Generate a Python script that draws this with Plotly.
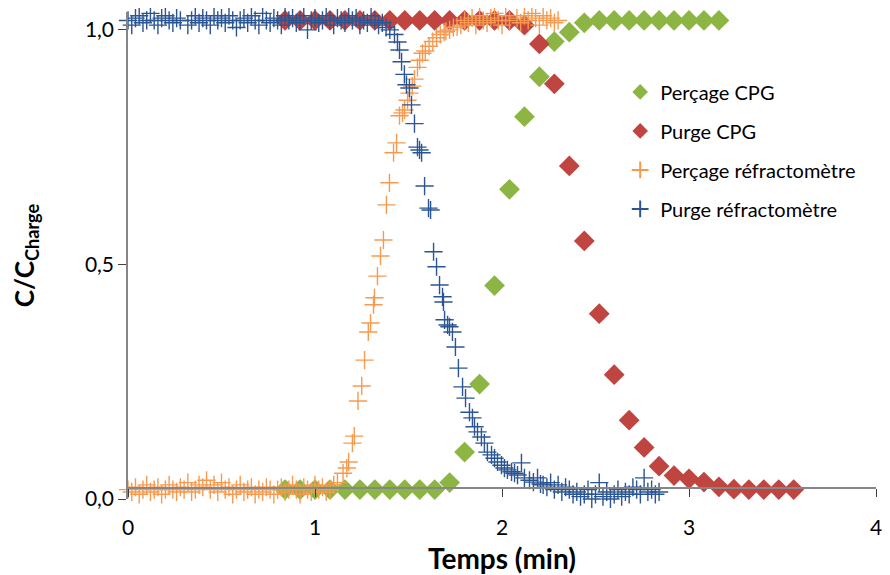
import plotly.graph_objects as go

# ---------------- data ----------------
cpg_x = [0.84, 0.92, 1.00, 1.08, 1.16, 1.24, 1.32, 1.40, 1.48, 1.56, 1.64, 1.72,
         1.80, 1.88, 1.96, 2.04, 2.12, 2.20, 2.28, 2.36, 2.44, 2.52, 2.60, 2.68,
         2.76, 2.84, 2.92, 3.00, 3.08, 3.16]
percage_cpg_y = [0.02, 0.02, 0.02, 0.02, 0.02, 0.02, 0.02, 0.02, 0.02, 0.02, 0.02,
                 0.035, 0.10, 0.245, 0.455, 0.66, 0.815, 0.90, 0.975, 0.995, 1.015,
                 1.02, 1.02, 1.02, 1.02, 1.02, 1.02, 1.02, 1.02, 1.02]

purge_cpg_x = [0.84, 0.92, 1.00, 1.08, 1.16, 1.24, 1.32, 1.40, 1.48, 1.56, 1.64, 1.72,
               1.80, 1.88, 1.96, 2.04, 2.12, 2.20, 2.28, 2.36, 2.44, 2.52, 2.60, 2.68,
               2.76, 2.84, 2.92, 3.00, 3.08, 3.16, 3.24, 3.32, 3.40, 3.48, 3.56]
purge_cpg_y = [1.02, 1.02, 1.02, 1.02, 1.02, 1.02, 1.02, 1.02, 1.02, 1.02, 1.02, 1.02,
               1.02, 1.02, 1.02, 1.02, 1.01, 0.97, 0.885, 0.71, 0.55, 0.395, 0.265,
               0.168, 0.11, 0.07, 0.05, 0.043, 0.036, 0.026, 0.021, 0.02, 0.02, 0.02, 0.02]

percage_ref_x = [0.00, 0.02, 0.04, 0.06, 0.08, 0.10, 0.12, 0.14, 0.16, 0.18,
                 0.20, 0.22, 0.24, 0.26, 0.28, 0.30, 0.32, 0.34, 0.36, 0.38,
                 0.40, 0.42, 0.44, 0.46, 0.48, 0.50, 0.52, 0.54, 0.56, 0.58,
                 0.60, 0.62, 0.64, 0.66, 0.68, 0.70, 0.72, 0.74, 0.76, 0.78,
                 0.80, 0.82, 0.84, 0.86, 0.88, 0.90, 0.92, 0.94, 0.96, 0.98,
                 1.00, 1.02, 1.04, 1.06, 1.08, 1.10, 1.12,
                 1.15, 1.17, 1.18, 1.20, 1.21, 1.23, 1.25, 1.265, 1.285, 1.297,
                 1.313, 1.318, 1.334, 1.35, 1.366, 1.382, 1.398, 1.42, 1.436, 1.452,
                 1.468, 1.479, 1.495, 1.505, 1.52, 1.532, 1.548, 1.56, 1.575, 1.59,
                 1.61, 1.63, 1.65, 1.67, 1.69, 1.70, 1.72, 1.74, 1.76,
                 1.78, 1.80, 1.82, 1.84, 1.86, 1.88, 1.90, 1.92, 1.94, 1.96,
                 1.98, 2.00, 2.02, 2.04, 2.06, 2.08, 2.10, 2.12, 2.14, 2.16,
                 2.18, 2.20, 2.22, 2.24, 2.26, 2.28, 2.30]
percage_ref_y = [0.02, 0.015, 0.025, 0.01, 0.02, 0.03, 0.015, 0.02, 0.025, 0.01,
                 0.02, 0.03, 0.02, 0.015, 0.025, 0.02, 0.035, 0.015, 0.02, 0.03,
                 0.025, 0.04, 0.02, 0.03, 0.015, 0.035, 0.02, 0.025, 0.01, 0.02,
                 0.03, 0.015, 0.02, 0.025, 0.01, 0.02, 0.015, 0.025, 0.02, 0.01,
                 0.02, 0.025, 0.015, 0.02, 0.03, 0.02, 0.01, 0.025, 0.02, 0.015,
                 0.03, 0.02, 0.025, 0.015, 0.02, 0.03, 0.035,
                 0.055, 0.066, 0.079, 0.119, 0.134, 0.209, 0.241, 0.296, 0.356, 0.375,
                 0.414, 0.429, 0.475, 0.518, 0.552, 0.627, 0.674, 0.738, 0.759, 0.817,
                 0.823, 0.829, 0.85, 0.865, 0.88, 0.895, 0.92, 0.935, 0.95, 0.955,
                 0.965, 0.975, 0.983, 0.99, 0.995, 0.997, 1.0, 1.005, 1.006,
                 1.01, 1.02, 1.015, 1.025, 1.01, 1.03, 1.02, 1.015, 1.025, 1.035,
                 1.02, 1.01, 1.03, 1.02, 1.04, 1.025, 1.015, 1.03, 1.02, 1.035,
                 1.025, 1.01, 1.03, 1.02, 1.025, 1.015, 1.02]

purge_ref_x = [0.00, 0.02, 0.04, 0.06, 0.08, 0.10, 0.12, 0.14, 0.16, 0.18,
               0.20, 0.22, 0.24, 0.26, 0.28, 0.30, 0.32, 0.34, 0.36, 0.38,
               0.40, 0.42, 0.44, 0.46, 0.48, 0.50, 0.52, 0.54, 0.56, 0.58,
               0.60, 0.62, 0.64, 0.66, 0.68, 0.70, 0.72, 0.74, 0.76, 0.78,
               0.80, 0.82, 0.84, 0.86, 0.88, 0.90, 0.92, 0.94, 0.96, 0.98,
               1.00, 1.02, 1.04, 1.06, 1.08, 1.10, 1.12, 1.14, 1.16, 1.18,
               1.20, 1.22, 1.24, 1.26, 1.28, 1.30, 1.32, 1.34, 1.36, 1.38,
               1.40,
               1.425, 1.441, 1.452, 1.463, 1.478, 1.489, 1.505, 1.516, 1.532, 1.548,
               1.559, 1.570, 1.586, 1.607, 1.618, 1.634, 1.650, 1.666, 1.682, 1.687,
               1.693, 1.709, 1.719, 1.735, 1.751, 1.767, 1.789, 1.805, 1.826, 1.842,
               1.853, 1.869, 1.890, 1.906, 1.922, 1.944, 1.960, 1.976, 1.997, 2.013,
               2.029, 2.051, 2.067, 2.083, 2.104, 2.120, 2.147, 2.168, 2.190, 2.206,
               2.22, 2.24, 2.26, 2.28, 2.30, 2.32, 2.34, 2.36, 2.38, 2.40,
               2.42, 2.44, 2.46, 2.48, 2.50, 2.52, 2.54, 2.56, 2.58, 2.60,
               2.62, 2.64, 2.66, 2.68, 2.70, 2.72, 2.74, 2.76, 2.78, 2.80,
               2.82, 2.84]
purge_ref_y = [1.02, 1.01, 1.025, 1.03, 1.015, 1.02, 1.035, 1.02, 1.01, 1.025,
               1.03, 1.02, 1.015, 1.025, 1.02, 1.04, 1.01, 1.02, 1.03, 1.015,
               1.025, 1.02, 1.01, 1.03, 1.02, 1.025, 1.015, 1.03, 1.02, 1.005,
               1.02, 1.025, 1.015, 1.03, 1.02, 1.01, 1.035, 1.02, 1.015, 1.025,
               1.02, 1.01, 1.03, 1.02, 1.025, 1.015, 1.02, 1.03, 1.0, 1.02,
               1.025, 1.015, 1.02, 1.03, 1.02, 1.01, 1.025, 1.02, 1.015, 1.03,
               1.02, 1.025, 1.01, 1.02, 1.015, 1.03, 1.02, 1.01, 1.015, 1.005,
               1.0,
               0.99, 0.974, 0.957, 0.932, 0.905, 0.883, 0.876, 0.84, 0.80, 0.75,
               0.744, 0.738, 0.667, 0.62, 0.616, 0.527, 0.495, 0.456, 0.431, 0.42,
               0.382, 0.371, 0.367, 0.356, 0.324, 0.279, 0.239, 0.215, 0.185, 0.173,
               0.154, 0.143, 0.132, 0.119, 0.10, 0.094, 0.087, 0.079, 0.072, 0.066,
               0.062, 0.058, 0.055, 0.051, 0.077, 0.045, 0.04, 0.036, 0.045, 0.032,
               0.03, 0.025, 0.035, 0.02, 0.03, 0.015, 0.025, 0.02, 0.01, 0.015,
               0.005, 0.01, 0.02, 0.0, 0.01, 0.035, 0.005, 0.015, 0.0, 0.01,
               0.02, 0.005, 0.015, 0.01, 0.025, 0.02, 0.01, 0.045, 0.015, 0.02,
               0.01, 0.015]

x_ticks = [0, 1, 2, 3, 4]
y_ticks = [0.0, 0.5, 1.0]

# ---------------- figure ----------------
FONT = "Lato"
GREEN = "#8DB543"
RED = "#C0443F"
ORANGE = "#F79A50"
BLUE = "#2B5592"

fig = go.Figure()
fig.add_trace(go.Scatter(x=cpg_x, y=percage_cpg_y, mode="markers", name="Perçage CPG",
                         legendgroup="a", cliponaxis=False,
                         marker=dict(symbol="diamond", size=16, color=GREEN, line=dict(width=0))))
fig.add_trace(go.Scatter(x=purge_cpg_x, y=purge_cpg_y, mode="markers", name="Purge CPG",
                         legendgroup="b", cliponaxis=False,
                         marker=dict(symbol="diamond", size=16, color=RED, line=dict(width=0))))
fig.add_trace(go.Scatter(x=percage_ref_x, y=percage_ref_y, mode="markers",
                         name="Perçage réfractomètre", legendgroup="c", cliponaxis=False,
                         marker=dict(symbol="cross-thin", size=13,
                                     line=dict(width=1.4, color=ORANGE), color=ORANGE)))
fig.add_trace(go.Scatter(x=purge_ref_x, y=purge_ref_y, mode="markers",
                         name="Purge réfractomètre", legendgroup="d", cliponaxis=False,
                         marker=dict(symbol="cross-thin", size=13,
                                     line=dict(width=1.4, color=BLUE), color=BLUE)))

fig.update_layout(
    width=882, height=567,
    margin=dict(l=120, r=14, t=4, b=76, autoexpand=False),
    paper_bgcolor="white", plot_bgcolor="white",
    separators=", ",
    font=dict(family=FONT, size=20, color="#000000"),
    showlegend=True,
    legend=dict(x=0.658, y=0.876, xanchor="left", yanchor="top",
                font=dict(family=FONT, size=20, color="#000000"),
                itemsizing="constant", tracegroupgap=10,
                bgcolor="rgba(0,0,0,0)", borderwidth=0),
    xaxis=dict(range=[0, 4], tickvals=x_ticks, ticks="outside", ticklen=8,
               tickcolor="#404040", tickwidth=1.3,
               showline=True, linecolor="#868686", linewidth=1.5,
               showgrid=False, zeroline=False, automargin=False,
               anchor="free", position=0.0226,
               ticklabelstandoff=13,
               tickfont=dict(family=FONT, size=21),
               title=dict(text="<b>Temps (min)</b>", font=dict(family=FONT, size=28),
                          standoff=14)),
    yaxis=dict(range=[0, 1.038], tickvals=y_ticks, tickformat=".1f",
               ticks="outside", ticklen=8, tickcolor="#404040", tickwidth=1.3,
               showline=True, linecolor="#868686", linewidth=1.5,
               showgrid=False, zeroline=False, automargin=False,
               tickfont=dict(family=FONT, size=21),
               title=dict(text="<b>C/C<sub>Charge</sub></b>", font=dict(family=FONT, size=26),
                          standoff=58)),
)

fig.write_html("out.html")
